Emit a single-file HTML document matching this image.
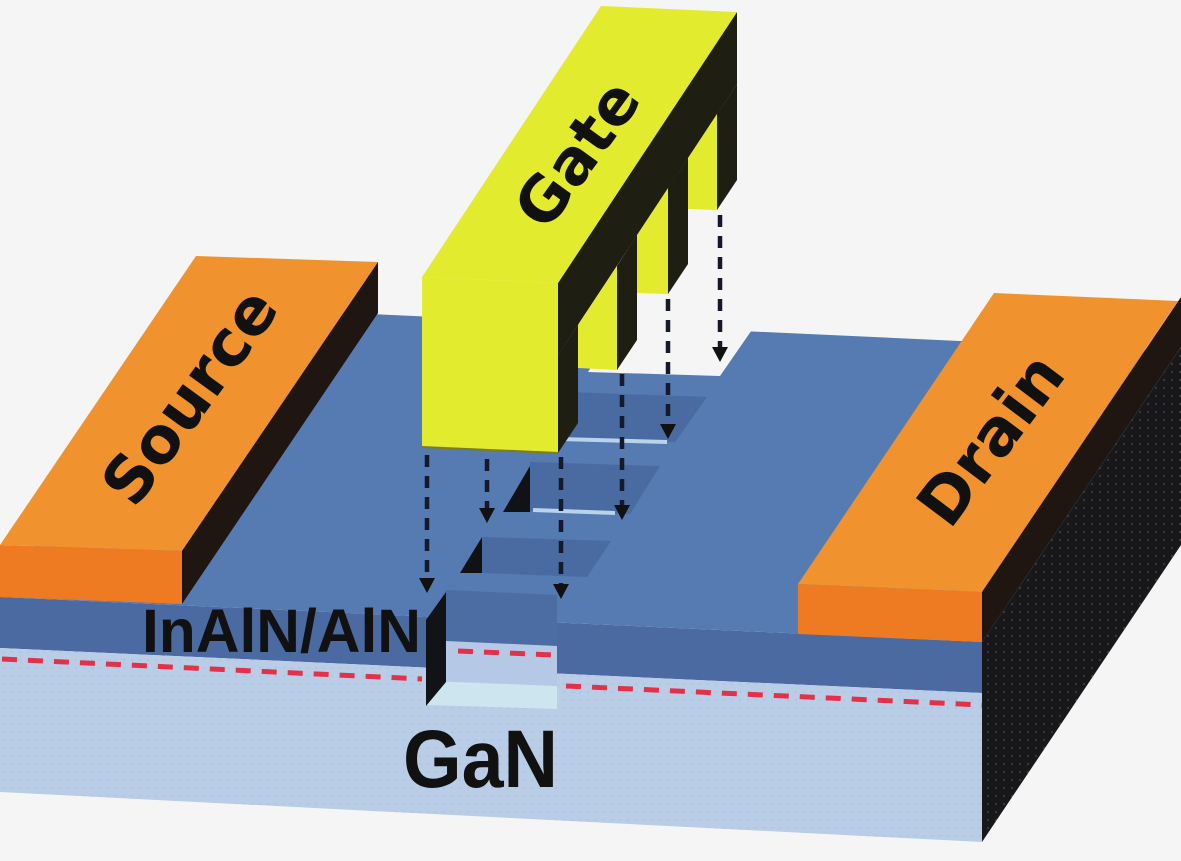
<!DOCTYPE html>
<html>
<head>
<meta charset="utf-8">
<style>
html,body{margin:0;padding:0;background:#f5f5f5;}
svg{display:block;}
</style>
</head>
<body>
<svg width="1181" height="861" viewBox="0 0 1181 861" xmlns="http://www.w3.org/2000/svg">
<defs>
<pattern id="dots" width="8" height="8" patternUnits="userSpaceOnUse">
<rect width="8" height="8" fill="#18181a"/>
<rect x="3" y="3" width="2" height="2" fill="#38383c"/>
</pattern>
<pattern id="ldots" width="8" height="8" patternUnits="userSpaceOnUse">
<rect width="8" height="8" fill="#b9cde7"/>
<rect x="3" y="3" width="2" height="2" fill="#b0c5e2"/>
</pattern>
</defs>
<rect width="1181" height="861" fill="#f5f5f5"/>

<!-- slab front faces -->
<polygon points="0,597 982,642 982,693 0,648" fill="#4a6aa1"/>
<polygon points="0,648 982,693 982,842 0,792" fill="url(#ldots)"/>
<!-- slab top -->
<polygon points="0,597 196,306 1178,351 982,642" fill="#557bb2"/>
<!-- slab right face -->
<polygon points="982,642 1181,347 1181,545 982,842" fill="url(#dots)"/>

<!-- 2DEG red dashed lines -->
<line x1="2" y1="659" x2="422" y2="679" stroke="#e23149" stroke-width="5" stroke-dasharray="15 11"/>
<line x1="566" y1="686" x2="982" y2="705" stroke="#e23149" stroke-width="5" stroke-dasharray="15 11"/>

<!-- front notch (trench 0) -->
<polygon points="446,590 557,595 557,646 446,641" fill="#4c6ca4"/>
<polygon points="446,641 557,646 557,686 446,681" fill="#b5c9e6"/>
<polygon points="426,681 557,686 557,709 426,705" fill="#cde5ef"/>
<line x1="458" y1="651" x2="555" y2="655" stroke="#e23149" stroke-width="5" stroke-dasharray="15 11"/>
<polygon points="426,620 446,592 446,682 426,706" fill="#121316"/>

<!-- trench strip A -->
<polygon points="482,537 611,541 587,577 482,573" fill="#4a6aa2"/>
<polygon points="460,573 482,537 482,573" fill="#111215"/>
<!-- trench strip B -->
<polygon points="530,462 660,466 630,514 530,511" fill="#4a6aa2"/>
<polygon points="503,512 530,466 530,512" fill="#111215"/>
<line x1="533" y1="510" x2="615" y2="513" stroke="#b8d3ec" stroke-width="4"/>
<!-- trench strip C -->
<polygon points="540,391 707,397 675,442 540,437" fill="#4a6aa2"/>
<line x1="560" y1="439" x2="667" y2="442" stroke="#b8d3ec" stroke-width="4"/>
<!-- back notch (D) -->
<polygon points="588,372 720,376 756,324 624,316" fill="#f5f5f5"/>

<!-- Source -->
<polygon points="0,545 182,551 182,604 0,597" fill="#ee7b22"/>
<polygon points="0,545 182,551 378,262 196,256" fill="#f0922e"/>
<polygon points="182,551 378,262 378,313 182,604" fill="#1f1511"/>

<!-- Drain -->
<polygon points="798,584 982,592 982,642 798,634" fill="#ee7b22"/>
<polygon points="798,584 982,592 1178,301 994,293" fill="#f0922e"/>
<polygon points="982,592 1181,297 1181,347 982,642" fill="#1f1611"/>

<!-- Gate side (dark) -->
<g fill="#1e1e12">
<polygon points="558,283 737,12 737,84 558,355"/>
<polygon points="558,355 578,325 578,423 558,453"/>
<polygon points="617,266 637,235 637,340 617,370"/>
<polygon points="668,188 688,158 688,264 668,294"/>
<polygon points="717,114 737,84 737,180 717,210"/>
</g>
<!-- Gate fingers (yellow fronts) -->
<g fill="#e3eb2f">
<polygon points="578,325 617,266 617,370 578,368"/>
<polygon points="637,235 668,188 668,294 637,293"/>
<polygon points="688,158 717,114 717,210 688,209"/>
</g>
<!-- Gate front & top -->
<polygon points="422,277 558,283 558,453 422,447" fill="#e3eb2f"/>
<line x1="422" y1="447" x2="558" y2="453" stroke="#7a7d1e" stroke-width="2"/>
<polygon points="422,277 558,283 737,12 601,6" fill="#e3eb2f"/>

<!-- dashed arrows -->
<g stroke="#15192a" stroke-width="4.5" stroke-dasharray="12 9" fill="none">
<line x1="427" y1="455" x2="427" y2="578"/>
<line x1="487" y1="459" x2="487" y2="508"/>
<line x1="561" y1="457" x2="561" y2="584"/>
<line x1="622" y1="374" x2="622" y2="505"/>
<line x1="668" y1="299" x2="668" y2="424"/>
<line x1="720" y1="215" x2="720" y2="347"/>
</g>
<g fill="#111">
<polygon points="419,578 435,578 427,593"/>
<polygon points="479,508 495,508 487,523"/>
<polygon points="553,584 569,584 561,599"/>
<polygon points="614,505 630,505 622,520"/>
<polygon points="660,424 676,424 668,439"/>
<polygon points="712,347 728,347 720,362"/>
</g>

<!-- Labels -->
<g font-family="'DejaVu Sans', 'Liberation Sans', sans-serif" font-weight="bold" fill="#111" text-anchor="middle">
<text x="0" y="23" font-size="62" transform="translate(576,153) rotate(-54)">Gate</text>
<text x="0" y="23" font-size="64" transform="translate(189,396) rotate(-54)">Source</text>
<text x="0" y="23" font-size="64" transform="translate(990,439) rotate(-53)">Drain</text>
</g>
<g font-family="'Liberation Sans', Arial, sans-serif" font-weight="bold" fill="#111">
<text x="142" y="652" font-size="61" textLength="279" lengthAdjust="spacingAndGlyphs">InAlN/AlN</text>
<text x="403" y="787" font-size="82" textLength="155" lengthAdjust="spacingAndGlyphs">GaN</text>
</g>
</svg>
</body>
</html>
